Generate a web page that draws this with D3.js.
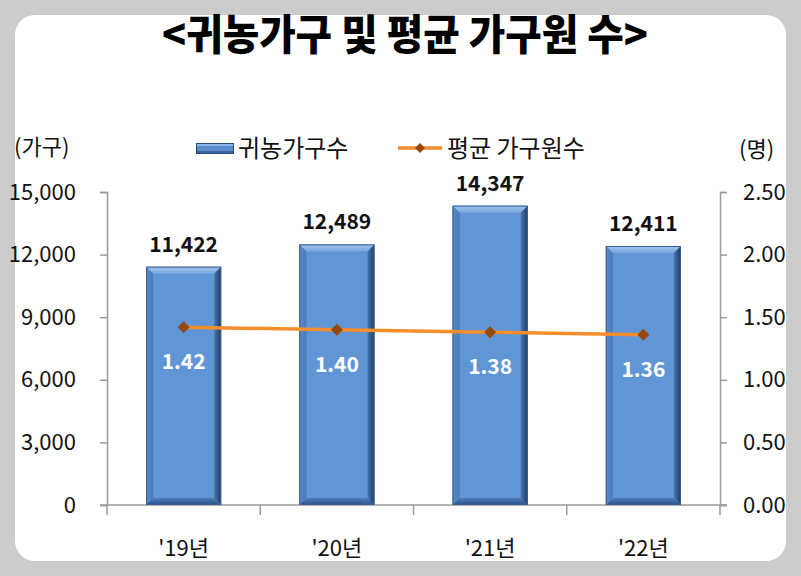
<!DOCTYPE html>
<html>
<head>
<meta charset="utf-8">
<script src="https://cdn.jsdelivr.net/npm/d3@7"></script>
<style>
  body { margin: 0; background: #cccccc; }
  svg { display: block; }
  text { font-family: "Noto Sans CJK KR", "Noto Sans", sans-serif; }
</style>
</head>
<body>
<svg width="801" height="576"></svg>
<script>
const years = ["'19년", "'20년", "'21년", "'22년"];
const households = [11422, 12489, 14347, 12411];
const avgMembers = [1.42, 1.40, 1.38, 1.36];
const leftTicks = [0, 3000, 6000, 9000, 12000, 15000];
const rightTicks = [0, 0.5, 1.0, 1.5, 2.0, 2.5];

const svg = d3.select('svg');

// white card
svg.append('rect')
  .attr('x', 15).attr('y', 15)
  .attr('width', 771).attr('height', 546)
  .attr('rx', 20)
  .attr('fill', '#ffffff');

// title
svg.append('text')
  .attr('x', 405).attr('y', 50)
  .attr('text-anchor', 'middle')
  .attr('font-size', 42)
  .attr('font-weight', 900)
  .attr('textLength', 486)
  .attr('lengthAdjust', 'spacingAndGlyphs')
  .text('<귀농가구 및 평균 가구원 수>');

const x = d3.scaleBand()
  .domain(years)
  .range([107, 720])
  .paddingInner(0.51)
  .paddingOuter(0.255);
const yL = d3.scaleLinear().domain([0, 15000]).range([505, 192]);
const yR = d3.scaleLinear().domain([0, 2.5]).range([505, 192]);

const axisColor = '#9a9a9a';

// left axis
const gl = svg.append('g').attr('transform', 'translate(107,0)')
  .call(d3.axisLeft(yL).tickValues(leftTicks).tickSize(7).tickFormat(d3.format(',')));
// right axis
const gr = svg.append('g').attr('transform', 'translate(720,0)')
  .call(d3.axisRight(yR).tickValues(rightTicks).tickSize(7).tickFormat(d3.format('.2f')));
// bottom axis: ticks at band boundaries
const bounds = years.map(d => x(d) - x.step() * x.paddingInner() / 2).concat([720]);
const gb = svg.append('g').attr('transform', 'translate(0,505)');
gb.append('line').attr('x1', 100).attr('x2', 727).attr('y1', 0).attr('y2', 0)
  .attr('stroke', axisColor).attr('stroke-width', 1.5);
gb.selectAll('.tk').data(bounds).enter().append('line')
  .attr('x1', d => d).attr('x2', d => d).attr('y1', 0).attr('y2', 10)
  .attr('stroke', axisColor).attr('stroke-width', 1.5);
gb.selectAll('.lab').data(years).enter().append('text')
  .attr('x', d => x(d) + x.bandwidth() / 2)
  .attr('y', 51)
  .attr('text-anchor', 'middle')
  .attr('font-size', 22)
  .attr('fill', '#111')
  .text(d => d);

[gl, gr].forEach(g => {
  g.select('.domain').attr('stroke', axisColor).attr('stroke-width', 1.5);
  g.selectAll('.tick line').attr('stroke', axisColor).attr('stroke-width', 1.5);
  g.selectAll('.tick text')
    .attr('font-size', 22)
    .attr('fill', '#111')
    .attr('font-family', '"Noto Sans CJK KR", sans-serif');
});
gl.selectAll('.tick text').attr('x', -31);
gr.selectAll('.tick text').attr('x', 23);

// axis titles
svg.append('text').attr('x', 14).attr('y', 155).attr('font-size', 22).attr('fill', '#111').text('(가구)');
svg.append('text').attr('x', 739).attr('y', 157).attr('font-size', 22).attr('fill', '#111').text('(명)');

// gradients for bevel edges
const defs = svg.append('defs');
function grad(id, x2, y2, c1, c2) {
  const gd = defs.append('linearGradient').attr('id', id)
    .attr('x1', 0).attr('y1', 0).attr('x2', x2).attr('y2', y2);
  gd.append('stop').attr('offset', 0).attr('stop-color', c1);
  gd.append('stop').attr('offset', 1).attr('stop-color', c2);
}
grad('gTop', 0, 1, '#a4c6ee', '#75a5e0');
grad('gRight', 1, 0, '#4a77b2', '#1f3a62');
grad('gBottom', 0, 1, '#4f7fbd', '#2d5185');
grad('gLeft', 1, 0, '#5a8dcb', '#4878b8');

const bv = 7;
function bevelBar(g, bx, by, bw, bh) {
  g.append('rect').attr('x', bx).attr('y', by).attr('width', bw).attr('height', bh)
    .attr('fill', '#6196d6');
  g.append('polygon')
    .attr('points', [[bx, by], [bx + bw, by], [bx + bw - bv, by + bv], [bx + bv, by + bv]].join(' '))
    .attr('fill', 'url(#gTop)');
  g.append('polygon')
    .attr('points', [[bx, by], [bx + bv, by + bv], [bx + bv, by + bh - bv], [bx, by + bh]].join(' '))
    .attr('fill', 'url(#gLeft)');
  g.append('polygon')
    .attr('points', [[bx + bw, by], [bx + bw, by + bh], [bx + bw - bv, by + bh - bv], [bx + bw - bv, by + bv]].join(' '))
    .attr('fill', 'url(#gRight)');
  g.append('polygon')
    .attr('points', [[bx, by + bh], [bx + bw, by + bh], [bx + bw - bv, by + bh - bv], [bx + bv, by + bh - bv]].join(' '))
    .attr('fill', 'url(#gBottom)');
  g.append('rect').attr('x', bx + 0.5).attr('y', by + 0.5).attr('width', bw - 1).attr('height', bh - 1)
    .attr('fill', 'none').attr('stroke', '#3a5f92').attr('stroke-width', 1);
}

const barsG = svg.append('g');
years.forEach((d, i) => {
  const g = barsG.append('g');
  bevelBar(g, x(d), yL(households[i]), x.bandwidth(), yL(0) - yL(households[i]));
});

// bar labels
svg.selectAll('.blab').data(years).enter().append('text')
  .attr('x', d => x(d) + x.bandwidth() / 2)
  .attr('y', (d, i) => yL(households[i]) - 15)
  .attr('text-anchor', 'middle')
  .attr('font-size', 21)
  .attr('font-weight', 700)
  .attr('fill', '#111')
  .text((d, i) => d3.format(',')(households[i]));

// line
const line = d3.line()
  .x((d, i) => x(years[i]) + x.bandwidth() / 2)
  .y(d => yR(d));
svg.append('path').datum(avgMembers)
  .attr('d', line)
  .attr('fill', 'none')
  .attr('stroke', '#f58d2c')
  .attr('stroke-width', 3.5);

const diamond = d3.symbol().type(d3.symbolSquare).size(72);
svg.selectAll('.mk').data(avgMembers).enter().append('path')
  .attr('d', diamond)
  .attr('transform', (d, i) => `translate(${x(years[i]) + x.bandwidth() / 2},${yR(d)}) rotate(45)`)
  .attr('fill', '#944a0e');

svg.selectAll('.llab').data(avgMembers).enter().append('text')
  .attr('x', (d, i) => x(years[i]) + x.bandwidth() / 2)
  .attr('y', d => yR(d) + 42)
  .attr('text-anchor', 'middle')
  .attr('font-size', 21)
  .attr('font-weight', 700)
  .attr('fill', '#ffffff')
  .text(d => d.toFixed(2));

// legend
const lg = svg.append('g');
(function () {
  const bx = 196, by = 143, bw = 38, bh = 11;
  lg.append('rect').attr('x', bx).attr('y', by).attr('width', bw).attr('height', bh).attr('fill', '#5a8ccc');
  lg.append('rect').attr('x', bx).attr('y', by).attr('width', bw).attr('height', 3).attr('fill', '#8ab5e8');
  lg.append('rect').attr('x', bx).attr('y', by + bh - 3).attr('width', bw).attr('height', 3).attr('fill', '#3a639c');
  lg.append('rect').attr('x', bx + 0.5).attr('y', by + 0.5).attr('width', bw - 1).attr('height', bh - 1)
    .attr('fill', 'none').attr('stroke', '#2a4a78');
})();
lg.append('text').attr('x', 238).attr('y', 157).attr('font-size', 24).attr('fill', '#111').text('귀농가구수');
lg.append('line').attr('x1', 398).attr('x2', 442).attr('y1', 148).attr('y2', 148)
  .attr('stroke', '#f58d2c').attr('stroke-width', 3.5);
lg.append('path').attr('d', d3.symbol().type(d3.symbolSquare).size(50))
  .attr('transform', 'translate(420,148) rotate(45)').attr('fill', '#944a0e');
lg.append('text').attr('x', 447).attr('y', 157).attr('font-size', 24).attr('fill', '#111').text('평균 가구원수');
</script>
</body>
</html>
